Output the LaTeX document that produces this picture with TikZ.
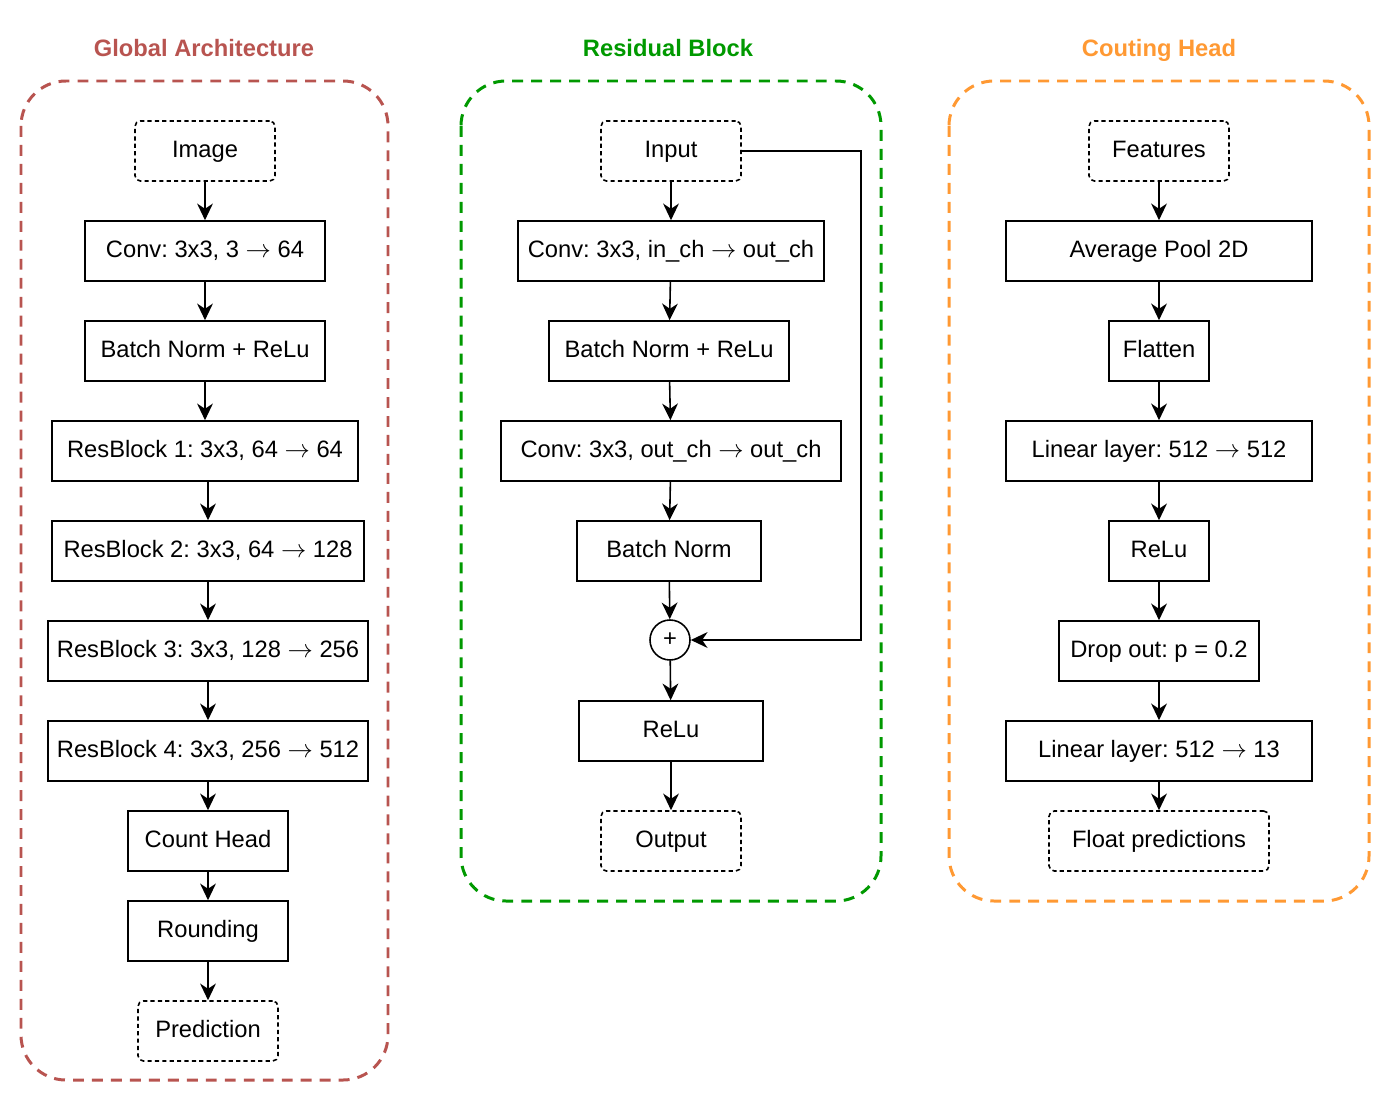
\documentclass[tikz,border=0pt]{standalone}
\usepackage{fontspec}
\setmainfont{Liberation Sans}
\usepackage{tikz}
\usetikzlibrary{arrows.meta}
\frenchspacing

\definecolor{garch}{HTML}{B85450}
\definecolor{resblk}{HTML}{009900}
\definecolor{cnthead}{HTML}{FF9933}

\tikzset{
  layer/.style={draw, line width=0.9pt, minimum height=1.2cm, inner sep=0pt, text height=0.95em, text depth=0.2em},
  io/.style={layer, dash pattern=on 2.4pt off 1.8pt, rounded corners=3pt, minimum width=2.8cm},
  group/.style={line width=1.7pt, dash pattern=on 6.2pt off 4.6pt, rounded corners=0.9cm},
  title/.style={font=\fontsize{13.5}{16}\selectfont\bfseries, text height=0.95em, text depth=0.2em},
  arr/.style={-{Stealth[length=9.5pt,width=9pt,inset=3pt]}, line width=0.9pt},
}

\begin{document}
\begin{tikzpicture}[x=0.02cm, y=-0.02cm, font=\fontsize{13.5}{16}\selectfont]
        \useasboundingbox (0,0) rectangle (1392,1102);

        % global architecture
        \draw[group, garch] (21,81) rectangle (388,1080);
        \node[title, text=garch] (tga) at (204,50) {Global Architecture};
        \node[io] (img) at (205,151) {Image};
        \node[layer, minimum width=4.8cm] (conv) at (205,251) {Conv: 3x3, 3 $\rightarrow$ 64};
        \node[layer, minimum width=4.8cm] (bnr) at (205,351) {Batch Norm + ReLu};
        \node[layer, minimum width=6.12cm] (rb1) at (205,451) {ResBlock 1: 3x3, 64 $\rightarrow$ 64};
        \node[layer, minimum width=6.24cm] (rb2) at (208,551) {ResBlock 2: 3x3, 64 $\rightarrow$ 128};
        \node[layer, minimum width=6.4cm] (rb3) at (208,651) {ResBlock 3: 3x3, 128 $\rightarrow$ 256};
        \node[layer, minimum width=6.4cm] (rb4) at (208,751) {ResBlock 4: 3x3, 256 $\rightarrow$ 512};
        \node[layer, minimum width=3.2cm] (chd) at (208,841) {Count Head};
        \node[layer, minimum width=3.2cm] (rnd) at (208,931) {Rounding};
        \node[io] (pred) at (208,1031) {Prediction};

        \draw[arr] (img) -- (conv);
        \draw[arr] (conv) -- (bnr);
        \draw[arr] (bnr) -- (rb1);
        \draw[arr] (rb1.south -| rb2) -- (rb2);
        \draw[arr] (rb2) -- (rb3);
        \draw[arr] (rb3) -- (rb4);
        \draw[arr] (rb4) -- (chd);
        \draw[arr] (chd) -- (rnd);
        \draw[arr] (rnd) -- (pred);

        % residual block
        \draw[group, resblk] (461,81) rectangle (881,901);
        \node[title, text=resblk] (trb) at (668,50) {Residual Block};
        \node[io] (in) at (671,151) {Input};
        \node[layer, minimum width=6.12cm] (cin) at (671,251) {Conv: 3x3, in\_ch $\rightarrow$ out\_ch};
        \node[layer, minimum width=4.8cm] (rbn) at (669,351) {Batch Norm + ReLu};
        \node[layer, minimum width=6.8cm] (cout) at (671,451) {Conv: 3x3, out\_ch $\rightarrow$ out\_ch};
        \node[layer, minimum width=3.68cm] (bn) at (669,551) {Batch Norm};
        \node[draw, circle, line width=0.9pt, minimum size=0.8cm, inner sep=0pt] (plus) at (670,640) {+};
        \node[layer, minimum width=3.68cm] (relu) at (671,731) {ReLu};
        \node[io] (out) at (671,841) {Output};
        \coordinate (skip) at (861,151);

        \draw[arr] (in) -- (cin);
        \draw[arr] (cin) -- (rbn);
        \draw[arr] (rbn) -- (cout);
        \draw[arr] (cout) -- (bn);
        \draw[arr] (bn) -- (plus);
        \draw[arr] (plus) -- (relu);
        \draw[arr] (relu) -- (out);
        \draw[arr] (in.east) -- (skip) |- (plus.east);

        % counting head
        \draw[group, cnthead] (949,81) rectangle (1369,901);
        \node[title, text=cnthead] (tch) at (1159,50) {Couting Head};
        \node[io] (feat) at (1159,151) {Features};
        \node[layer, minimum width=6.12cm] (avg) at (1159,251) {Average Pool 2D};
        \node[layer, minimum width=2cm] (flat) at (1159,351) {Flatten};
        \node[layer, minimum width=6.12cm] (lin1) at (1159,451) {Linear layer: 512 $\rightarrow$ 512};
        \node[layer, minimum width=2cm] (hrelu) at (1159,551) {ReLu};
        \node[layer, minimum width=4cm] (drop) at (1159,651) {Drop out: p = 0.2};
        \node[layer, minimum width=6.12cm] (lin2) at (1159,751) {Linear layer: 512 $\rightarrow$ 13};
        \node[io, minimum width=4.4cm] (fpred) at (1159,841) {Float predictions};

        \draw[arr] (feat) -- (avg);
        \draw[arr] (avg) -- (flat);
        \draw[arr] (flat) -- (lin1);
        \draw[arr] (lin1) -- (hrelu);
        \draw[arr] (hrelu) -- (drop);
        \draw[arr] (drop) -- (lin2);
        \draw[arr] (lin2) -- (fpred);
    \end{tikzpicture}
\end{document}
